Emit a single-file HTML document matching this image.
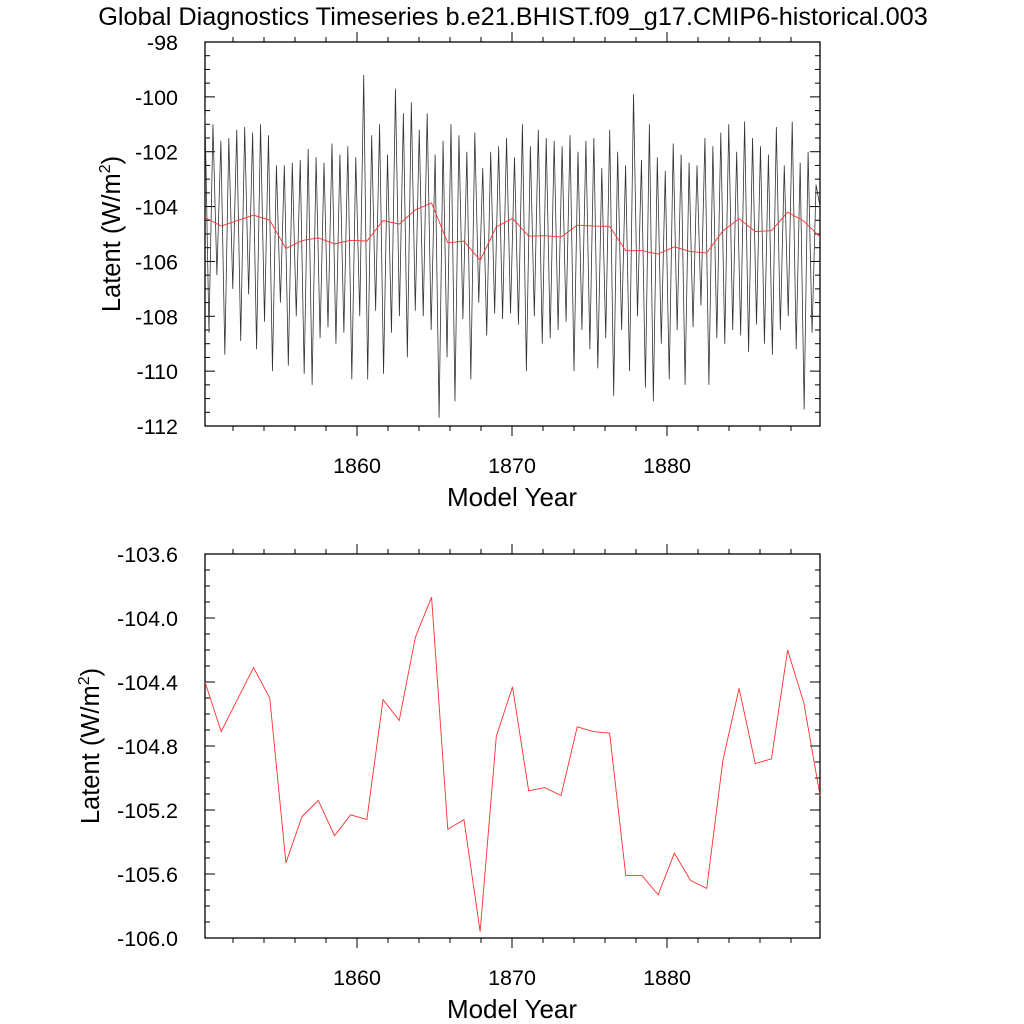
<!DOCTYPE html>
<html><head><meta charset="utf-8"><style>
html,body{margin:0;padding:0;background:#fff;}
svg{display:block;font-family:"Liberation Sans",Arial,sans-serif;}
</style></head><body>
<svg id="chart" width="1024" height="1024" viewBox="0 0 1024 1024" xmlns="http://www.w3.org/2000/svg">
<rect width="1024" height="1024" fill="#fff"/>
<text x="513" y="25" font-size="25.3" text-anchor="middle">Global Diagnostics Timeseries b.e21.BHIST.f09_g17.CMIP6-historical.003</text>
<g id="top"></g>
<g id="bottom"></g>
</svg>
<script>
const annualValues = [-104.40,-104.71,-104.51,-104.31,-104.50,-105.53,-105.24,-105.14,-105.36,-105.23,-105.26,-104.51,-104.64,-104.12,-103.87,-105.32,-105.26,-105.96,-104.74,-104.43,-105.08,-105.06,-105.11,-104.68,-104.71,-104.72,-105.61,-105.61,-105.73,-105.47,-105.64,-105.69,-104.89,-104.44,-104.91,-104.88,-104.20,-104.53,-105.11];
const monthlyValues = [
-100.6,-108.6,-101.0,-106.5, -101.6,-109.4,-101.5,-107.0, -101.2,-108.9,-101.1,-107.2, -101.3,-109.2,-101.0,-108.2,
-101.4,-110.0,-102.5,-107.5, -102.5,-109.8,-102.4,-108.0, -102.3,-110.1,-101.9,-110.5, -102.2,-108.8,-102.4,-108.4,
-101.7,-109.0,-102.1,-108.6, -101.8,-110.3,-102.2,-108.0, -99.2,-110.3,-101.4,-107.8, -101.0,-110.1,-102.1,-108.6,
-99.7,-108.0,-100.6,-109.5, -100.2,-107.8,-101.2,-108.0, -100.6,-108.5,-102.1,-111.7, -101.6,-109.5,-101.0,-111.1,
-101.4,-108.1,-102.0,-110.3, -101.3,-107.5,-102.6,-108.7, -102.0,-107.9,-101.8,-108.1, -101.5,-107.9,-102.2,-108.3,
-101.0,-110.0,-101.8,-108.0, -101.2,-109.0,-101.5,-108.8, -101.6,-108.5,-101.8,-108.2, -101.4,-110.0,-102.0,-108.5,
-101.6,-109.2,-101.5,-109.9, -102.6,-108.8,-101.2,-110.9, -102.0,-108.5,-102.5,-110.0, -99.9,-108.0,-102.3,-110.6,
-101.0,-111.1,-102.2,-109.0, -102.7,-110.3,-101.7,-108.5, -102.1,-110.5,-102.4,-108.4, -102.5,-107.6,-101.5,-110.5,
-101.8,-108.8,-101.3,-109.0, -101.0,-108.5,-102.0,-108.7, -100.9,-109.3,-101.5,-108.3, -101.8,-109.0,-102.1,-109.4,
-101.1,-108.5,-102.5,-108.0, -100.9,-109.2,-102.4,-111.4, -102.0,-108.6,-103.2,-104.0];
const xTickYears = [1860,1870,1880];
const topYTicks = [-98,-100,-102,-104,-106,-108,-110,-112];
const bottomYTicks = [-103.6,-104.0,-104.4,-104.8,-105.2,-105.6,-106.0];

const NS = "http://www.w3.org/2000/svg";
function mk(parent, tag, attrs){const e=document.createElementNS(NS,tag);for(const k in attrs)e.setAttribute(k,attrs[k]);parent.appendChild(e);return e;}
const X0=205, X1=820;
const yearX = y => 357 + (y-1860)*15.5;
const annX = i => X0 + i*(X1-X0)/(annualValues.length-1);
const monX = i => X0 + i*(X1-X0)/(monthlyValues.length-1);

function panel(g, top, bot, vmin, vmax, majorStep, minorStep, ticks, dec, titleX, withMonthly){
  const yS = v => top + (vmax - v)/(vmax - vmin)*(bot-top);
  const frame = mk(g,'rect',{x:X0,y:top,width:X1-X0,height:bot-top,fill:'none',stroke:'#000','stroke-width':1.3});
  
  
  const nMinor = Math.round((vmax-vmin)/minorStep);
  for(let k=0;k<=nMinor;k++){
    const v = vmin + k*minorStep; const y=yS(v);
    const isMajor = Math.abs(((v-vmin)/majorStep) - Math.round((v-vmin)/majorStep))<1e-6;
    const L = isMajor?10:5;
    mk(g,'line',{x1:X0,x2:X0+L,y1:y,y2:y,stroke:'#000','stroke-width':1});
    mk(g,'line',{x1:X1,x2:X1-L,y1:y,y2:y,stroke:'#000','stroke-width':1});
  }
  ticks.forEach(v=>{
    const t = mk(g,'text',{x:X0-27,y:yS(v)+8,'font-size':21.5,'text-anchor':'end'});
    t.textContent = v.toFixed(dec);
    
    
  });
  for(let yr=1852; yr<=1888; yr+=2){
    const x = yearX(yr); const major = yr%10===0; const L = major?10:5;
    mk(g,'line',{x1:x,x2:x,y1:top,y2:top-L,stroke:'#000','stroke-width':1});
    mk(g,'line',{x1:x,x2:x,y1:bot,y2:bot+L,stroke:'#000','stroke-width':1});
  }
  xTickYears.forEach(yr=>{
    const t = mk(g,'text',{x:yearX(yr),y:bot+47,'font-size':21.5,'text-anchor':'middle'});
    t.textContent = yr;
    
    
  });
  const xt = mk(g,'text',{x:512,y:bot+80,'font-size':26,'text-anchor':'middle'});
  xt.textContent='Model Year';
  
  
  const cy=(top+bot)/2;
  const yt = mk(g,'text',{x:titleX,y:cy,'font-size':25.5,'text-anchor':'middle',transform:`rotate(-90 ${titleX} ${cy})`});
  yt.innerHTML='Latent (W/m<tspan dy="-10" font-size="16">2</tspan><tspan dy="10">)</tspan>';
  
  
  if(withMonthly){
    const p = mk(g,'polyline',{points:monthlyValues.map((v,i)=>monX(i)+','+yS(v)).join(' '),fill:'none',stroke:'#333','stroke-width':0.8});
    
    
  }
  const a = mk(g,'polyline',{points:annualValues.map((v,i)=>annX(i)+','+yS(v)).join(' '),fill:'none',stroke:'#ff3030','stroke-width':0.9});
  
  
}
const gt=document.getElementById('top');


const gb=document.getElementById('bottom');


panel(gt,42,426,-112,-98,2,0.5,topYTicks,0,120,true);
panel(gb,554,938,-106.0,-103.6,0.4,0.1,bottomYTicks,1,99,false);
</script>
</body></html>
